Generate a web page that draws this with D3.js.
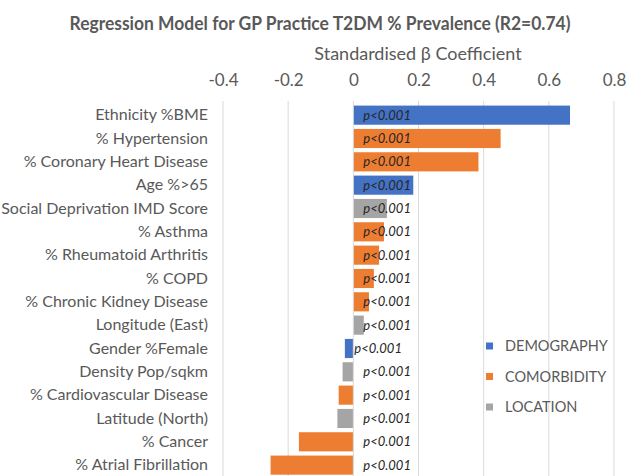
<!DOCTYPE html>
<html>
<head>
<meta charset="utf-8">
<script src="https://cdn.jsdelivr.net/npm/d3@7"></script>
<style>
  body { margin: 0; background: #fff; }
  svg { font-family: Lato, "Open Sans", sans-serif; }
</style>
</head>
<body>
<svg id="chart" width="640" height="476"></svg>
<script>
// Chart data
const categories = [
  "Ethnicity %BME", "% Hypertension", "% Coronary Heart Disease", "Age %>65",
  "Social Deprivation IMD Score", "% Asthma", "% Rheumatoid Arthritis", "% COPD",
  "% Chronic Kidney Disease", "Longitude (East)", "Gender %Female", "Density Pop/sqkm",
  "% Cardiovascular Disease ", "Latitude (North)", "% Cancer", "% Atrial Fibrillation"
];
const coefficients = [
  0.665, 0.452, 0.384, 0.184, 0.103, 0.094, 0.079, 0.063,
  0.048, 0.032, -0.026, -0.033, -0.045, -0.049, -0.167, -0.254
];
const groups = [
  "DEMOGRAPHY", "COMORBIDITY", "COMORBIDITY", "DEMOGRAPHY",
  "LOCATION", "COMORBIDITY", "COMORBIDITY", "COMORBIDITY",
  "COMORBIDITY", "LOCATION", "DEMOGRAPHY", "LOCATION",
  "COMORBIDITY", "LOCATION", "COMORBIDITY", "COMORBIDITY"
];
const pLabels = categories.map(() => "p<0.001");
const groupNames = ["DEMOGRAPHY", "COMORBIDITY", "LOCATION"];
const groupColours = ["#4472c4", "#ed7d31", "#a5a5a5"];
const xTicks = [-0.4, -0.2, 0, 0.2, 0.4, 0.6, 0.8];

const rows = categories.map((c, i) => ({ name: c, value: coefficients[i], group: groups[i], p: pLabels[i] }));

const svg = d3.select("#chart");
const textColour = "#595959";

const x = d3.scaleLinear().domain([-0.4, 0.8]).range([223, 614]);
const y = d3.scaleBand().domain(categories).range([103.5, 476.8]).paddingInner(0.18).paddingOuter(0.09);
const colour = d3.scaleOrdinal().domain(groupNames).range(groupColours);

// Title
svg.append("text")
  .attr("x", 320).attr("y", 30)
  .attr("text-anchor", "middle")
  .attr("font-size", 19).attr("font-weight", "bold")
  .attr("fill", textColour)
  .attr("textLength", 501).attr("lengthAdjust", "spacingAndGlyphs")
  .text("Regression Model for GP Practice T2DM % Prevalence (R2=0.74)");

// Axis title
svg.append("text")
  .attr("x", 418).attr("y", 60)
  .attr("text-anchor", "middle")
  .attr("font-size", 18)
  .attr("fill", textColour)
  .text("Standardised \u03b2 Coefficient");

// Gridlines
svg.append("g")
  .selectAll("line")
  .data(xTicks.filter(t => t !== 0))
  .join("line")
  .attr("x1", d => x(d)).attr("x2", d => x(d))
  .attr("y1", 101).attr("y2", 476)
  .attr("stroke", "#d9d9d9").attr("stroke-width", 1);

// Top axis tick labels (plain hyphen minus, as in the original)
const xAxis = svg.append("g")
  .attr("transform", "translate(0,86)")
  .call(d3.axisTop(x).tickValues(xTicks)
    .tickFormat(d => d === 0 ? "0" : d3.format(".1f")(d).replace("\u2212", "-"))
    .tickSize(0).tickPadding(0));
xAxis.select(".domain").remove();
xAxis.selectAll("text").attr("font-size", 17).attr("fill", textColour).attr("font-family", "Lato, sans-serif");

// Category labels
const yAxis = svg.append("g")
  .attr("transform", "translate(208,0)")
  .call(d3.axisLeft(y).tickSize(0).tickPadding(0));
yAxis.select(".domain").remove();
yAxis.selectAll("text").attr("font-size", 16).attr("fill", textColour).attr("font-family", "Lato, sans-serif");

// Bars
svg.append("g")
  .selectAll("rect")
  .data(rows)
  .join("rect")
  .attr("x", d => x(Math.min(0, d.value)))
  .attr("width", d => Math.abs(x(d.value) - x(0)))
  .attr("y", d => y(d.name))
  .attr("height", y.bandwidth())
  .attr("fill", d => colour(d.group));

// Zero line
svg.append("line")
  .attr("x1", x(0)).attr("x2", x(0))
  .attr("y1", 101).attr("y2", 476)
  .attr("stroke", "#d9d9d9");

// p-value labels
svg.append("g")
  .selectAll("text")
  .data(rows)
  .join("text")
  .attr("x", d => x(0) + (d.name === "Gender %Female" ? 1 : 10))
  .attr("y", d => y(d.name) + y.bandwidth() / 2)
  .attr("dy", "0.35em")
  .attr("font-size", 13)
  .attr("font-style", "italic")
  .attr("fill", "#262626")
  .text(d => d.p);

// Legend
const legend = svg.append("g")
  .selectAll("g")
  .data(groupNames)
  .join("g")
  .attr("transform", (d, i) => `translate(486,${346 + i * 30.5})`);
legend.append("rect")
  .attr("x", 0).attr("y", -3.5)
  .attr("width", 7).attr("height", 7)
  .attr("fill", d => colour(d));
legend.append("text")
  .attr("x", 19).attr("dy", "0.36em")
  .attr("font-size", 14.5)
  .attr("fill", textColour)
  .text(d => d);
</script>
</body>
</html>
